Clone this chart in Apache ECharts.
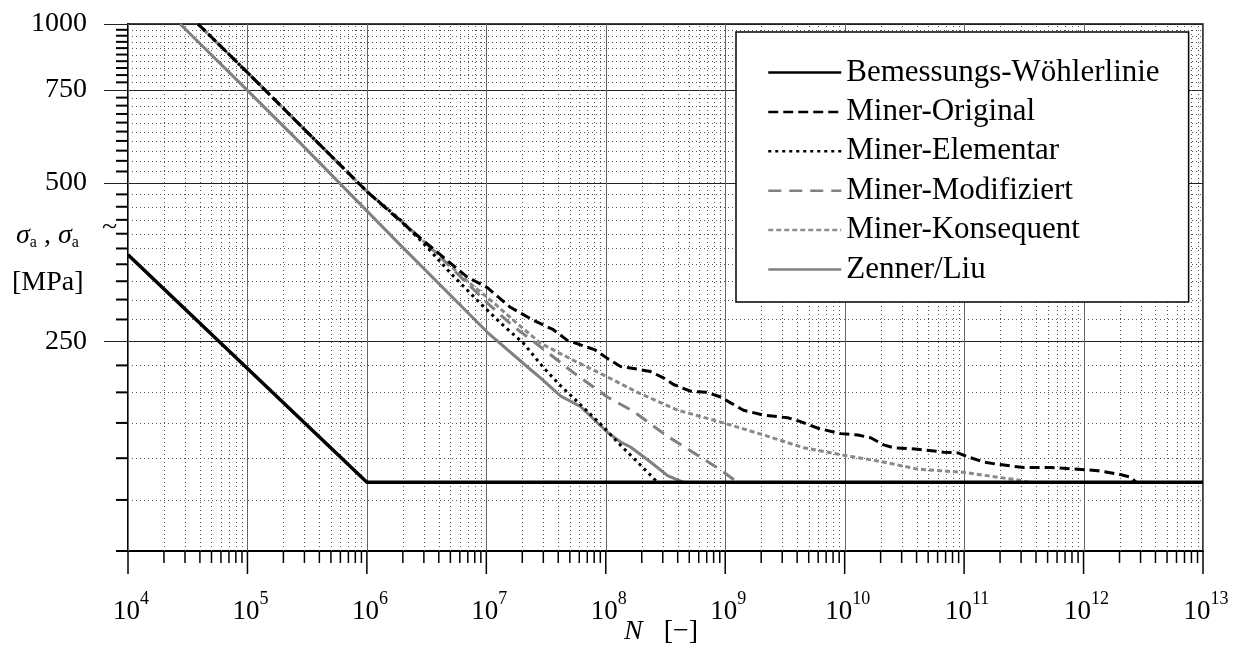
<!DOCTYPE html>
<html lang="de">
<head>
<meta charset="UTF-8">
<title>Wöhlerlinien</title>
<script src="https://cdn.jsdelivr.net/npm/echarts@6/dist/echarts.min.js"></script>
<style>
html,body{margin:0;padding:0;background:#fff;}
#chart{width:1243px;height:658px;}
</style>
</head>
<body>
<div id="chart"></div>
<script>
// Achsenbereich
var nMin = 1e4, nMax = 1e13;
var sMin = 100, sMax = 1000;
var nDecades = [1e4, 1e5, 1e6, 1e7, 1e8, 1e9, 1e10, 1e11, 1e12, 1e13];
var minorFactors = [2, 3, 4, 5, 6, 7, 8, 9];
var sTicks = [100, 125, 150, 175, 200, 225, 250, 275, 300, 325, 350, 375, 400, 425, 450, 475, 500,
    525, 550, 575, 600, 625, 650, 675, 700, 725, 750, 775, 800, 825, 850, 875, 900, 925, 950, 975, 1000];
var sLabels = [250, 500, 750, 1000];

// Kurven [N, sigma_a]
var bemessung = [[1e4, 365], [1e6, 135], [1e13, 135]];
var minerOriginal = [[3.86e4, 1000], [9.9e4, 811], [2.76e5, 643], [1.01e6, 480], [2.31e6, 407], [4.36e6, 361],
    [6.93e6, 331], [1.02e7, 316], [1.59e7, 290], [2.48e7, 274], [3.64e7, 263], [4.77e7, 251], [8.07e7, 241],
    [1.03e8, 232], [1.33e8, 224], [1.71e8, 222], [2.37e8, 219], [3.04e8, 213], [3.69e8, 207], [5.12e8, 201],
    [7.11e8, 200], [9.14e8, 196], [1.11e9, 191], [1.42e9, 185], [2.10e9, 181], [3.33e9, 179], [4.28e9, 176],
    [5.94e9, 171], [9.26e9, 167], [1.29e10, 166], [1.65e10, 164], [2.12e10, 159], [2.58e10, 157], [4.09e10, 156],
    [6.76e10, 154], [8.85e10, 153.5], [1.07e11, 151], [1.46e11, 147.5], [1.92e11, 146], [3.16e11, 144],
    [5.33e11, 144], [8.97e11, 143], [1.32e12, 142], [1.94e12, 140], [2.49e12, 138], [2.75e12, 135]];
var minerElementar = [[3.86e4, 1000], [9.9e4, 811], [2.76e5, 643], [1.01e6, 480], [1.90e6, 425], [3.20e6, 377],
    [4.99e6, 337], [8.41e6, 299], [1.31e7, 271], [2.04e7, 248], [3.00e7, 223], [4.17e7, 206], [5.79e7, 192],
    [9.56e7, 172], [1.25e8, 161], [1.84e8, 147.5], [2.71e8, 135]];
var minerModifiziert = [[3.86e4, 1000], [9.9e4, 811], [2.76e5, 643], [1.01e6, 480], [1.90e6, 425], [3.39e6, 377],
    [6.93e6, 322], [1.08e7, 292], [1.68e7, 267], [2.84e7, 244], [5.36e7, 218], [1.03e8, 196], [1.71e8, 184],
    [3.29e8, 165], [5.12e8, 155], [9.14e8, 142.5], [1.27e9, 135]];
var minerKonsequent = [[3.86e4, 1000], [9.9e4, 811], [2.76e5, 643], [1.01e6, 480], [1.90e6, 425], [3.39e6, 377],
    [6.93e6, 325], [1.15e7, 296], [1.75e7, 272], [2.84e7, 248], [5.36e7, 230], [1.03e8, 214], [1.84e8, 200],
    [3.99e8, 185], [6.21e8, 180], [9.69e8, 175], [2.10e9, 166], [4.54e9, 157], [9.81e9, 152], [2.12e10, 147.5],
    [4.09e10, 143], [9.94e10, 141], [1.92e11, 138], [2.82e11, 136.4], [3.48e11, 135]];
var zennerLiu = [[2.73e4, 1000], [9.9e4, 750], [2.76e5, 595], [1.90e6, 381], [1.02e7, 260], [2.34e7, 221],
    [2.84e7, 213], [4.17e7, 197], [6.13e7, 188], [1.03e8, 168], [1.33e8, 161], [1.61e8, 157.5], [2.37e8, 147.5],
    [3.29e8, 139], [4.48e8, 135]];

var legendNames = ['Bemessungs-Wöhlerlinie', 'Miner-Original', 'Miner-Elementar', 'Miner-Modifiziert',
    'Miner-Konsequent', 'Zenner/Liu'];

var FONT = '"Liberation Serif", "Times New Roman", serif';

var nMinor = [];
nDecades.slice(0, -1).forEach(function (d) {
    minorFactors.forEach(function (f) { nMinor.push(d * f); });
});

function crisp(v) { return Math.round(v) + 0.5; }

function curve(name, data, color, dash, width, z) {
    return {
        name: name, type: 'line', data: data, symbol: 'none', z: z, silent: true, color: color,
        itemStyle: {color: color},
        lineStyle: {color: color, width: width, type: dash, cap: 'butt'}
    };
}

var chart = echarts.init(document.getElementById('chart'));
var option = {
    animation: false,
    backgroundColor: '#fff',
    grid: {left: 128, right: 40, top: 24, bottom: 107, show: true, borderColor: '#000', borderWidth: 1.5},
    xAxis: {
        type: 'log', logBase: 10, min: nMin, max: nMax,
        axisLine: {lineStyle: {color: '#000', width: 2}},
        axisTick: {show: false}, axisLabel: {show: false}, splitLine: {show: false}
    },
    yAxis: {
        type: 'log', logBase: 10, min: sMin, max: sMax,
        axisLine: {lineStyle: {color: '#000', width: 2}},
        axisTick: {show: false}, axisLabel: {show: false}, splitLine: {show: false}
    },
    legend: {
        data: legendNames, orient: 'vertical', left: 736, top: 32,
        padding: [25, 29, 17, 31], itemWidth: 73, itemHeight: 14, itemGap: 8.4,
        backgroundColor: '#fff', borderColor: '#000', borderWidth: 1.5, borderRadius: 0,
        selectedMode: false,
        itemStyle: {opacity: 0},
        lineStyle: {width: 2.5},
        textStyle: {fontFamily: FONT, fontSize: 31, lineHeight: 31, color: '#000'}
    },
    graphic: [
        {type: 'text', left: 16, top: 222, style: {
            text: '{g|σ}{s|a}{n| , }{g|σ}{s|a}',
            rich: {
                g: {fontFamily: FONT, fontStyle: 'italic', fontSize: 28, lineHeight: 30, fill: '#000'},
                s: {fontFamily: FONT, fontSize: 16, lineHeight: 16, verticalAlign: 'bottom', fill: '#000'},
                n: {fontFamily: FONT, fontSize: 28, lineHeight: 30, fill: '#000'}
            }
        }},
        {type: 'text', left: 102, top: 214, style: {text: '~', font: '28px ' + FONT, fill: '#000'}},
        {type: 'text', left: 12, top: 269, style: {text: '[MPa]', font: '28px ' + FONT, fill: '#000'}},
        {type: 'text', left: 624, top: 618, style: {
            text: '{i|N}{n|   [−]}',
            rich: {
                i: {fontFamily: FONT, fontStyle: 'italic', fontSize: 28, fill: '#000'},
                n: {fontFamily: FONT, fontSize: 28, fill: '#000'}
            }
        }}
    ],
    series: [
        // horizontale Gitterlinien, Ticks und Beschriftung der sigma-Achse
        {
            type: 'custom', silent: true, z: 1, clip: false,
            data: sTicks.map(function (v) { return [nMin, v]; }),
            encode: {x: 0, y: 1},
            renderItem: function (params, api) {
                var v = api.value(1);
                var p = api.coord([nMin, v]);
                var xr = api.coord([nMax, v])[0];
                var y = crisp(p[1]);
                var major = sLabels.indexOf(v) >= 0;
                var children = [];
                if (major) {
                    children.push({type: 'line', shape: {x1: p[0] - 24, y1: y, x2: xr, y2: y},
                        style: {stroke: '#222', lineWidth: 1}});
                    children.push({type: 'text', style: {text: String(v), x: 87, y: p[1],
                        align: 'right', verticalAlign: 'middle', font: '28px ' + FONT, fill: '#000'}});
                } else {
                    children.push({type: 'line', shape: {x1: p[0] - 12, y1: p[1], x2: p[0], y2: p[1]},
                        style: {stroke: '#000', lineWidth: 2}});
                    if (v !== sMin) {
                        children.push({type: 'line', shape: {x1: p[0], y1: y, x2: xr, y2: y},
                            style: {stroke: '#555', lineWidth: 1, lineDash: [1, 3]}});
                    }
                }
                return {type: 'group', children: children};
            }
        },
        // vertikale Nebenlinien
        {
            type: 'custom', silent: true, z: 1, clip: false,
            data: nMinor.map(function (v) { return [v, sMin]; }),
            encode: {x: 0, y: 1},
            renderItem: function (params, api) {
                var v = api.value(0);
                var p = api.coord([v, sMin]);
                var top = api.coord([v, sMax])[1];
                var x = crisp(p[0]);
                return {type: 'group', children: [
                    {type: 'line', shape: {x1: x, y1: p[1], x2: x, y2: top},
                        style: {stroke: '#555', lineWidth: 1, lineDash: [1, 3]}},
                    {type: 'line', shape: {x1: p[0], y1: p[1], x2: p[0], y2: p[1] + 12},
                        style: {stroke: '#000', lineWidth: 1.5}}
                ]};
            }
        },
        // Dekaden: Gitterlinien, Ticks, Beschriftung
        {
            type: 'custom', silent: true, z: 1, clip: false,
            data: nDecades.map(function (v) { return [v, sMin]; }),
            encode: {x: 0, y: 1},
            renderItem: function (params, api) {
                var v = api.value(0);
                var p = api.coord([v, sMin]);
                var top = api.coord([v, sMax])[1];
                var x = crisp(p[0]);
                var exp = Math.round(Math.log(v) / Math.LN10);
                return {type: 'group', children: [
                    {type: 'line', shape: {x1: x, y1: p[1], x2: x, y2: top},
                        style: {stroke: '#666', lineWidth: 1}},
                    {type: 'line', shape: {x1: p[0], y1: p[1], x2: p[0], y2: p[1] + 23},
                        style: {stroke: '#000', lineWidth: 1.5}},
                    {type: 'text', style: {
                        text: '{b|10}{s|' + exp + '}', x: p[0] + 3, y: 590,
                        align: 'center', verticalAlign: 'top',
                        rich: {
                            b: {fontFamily: FONT, fontSize: 27, lineHeight: 44, fill: '#000'},
                            s: {fontFamily: FONT, fontSize: 18, lineHeight: 18, verticalAlign: 'top', fill: '#000'}
                        }
                    }}
                ]};
            }
        },
        curve(legendNames[0], bemessung, '#000', 'solid', 3.5, 6),
        curve(legendNames[5], zennerLiu, '#808080', 'solid', 3, 3),
        curve(legendNames[4], minerKonsequent, '#8a8a8a', [5, 3], 3, 3),
        curve(legendNames[3], minerModifiziert, '#808080', [13, 8], 3, 3),
        curve(legendNames[2], minerElementar, '#000', [3, 4], 3, 4),
        curve(legendNames[1], minerOriginal, '#000', [10, 5], 3, 5)
    ]
};
chart.setOption(option);
</script>
</body>
</html>
